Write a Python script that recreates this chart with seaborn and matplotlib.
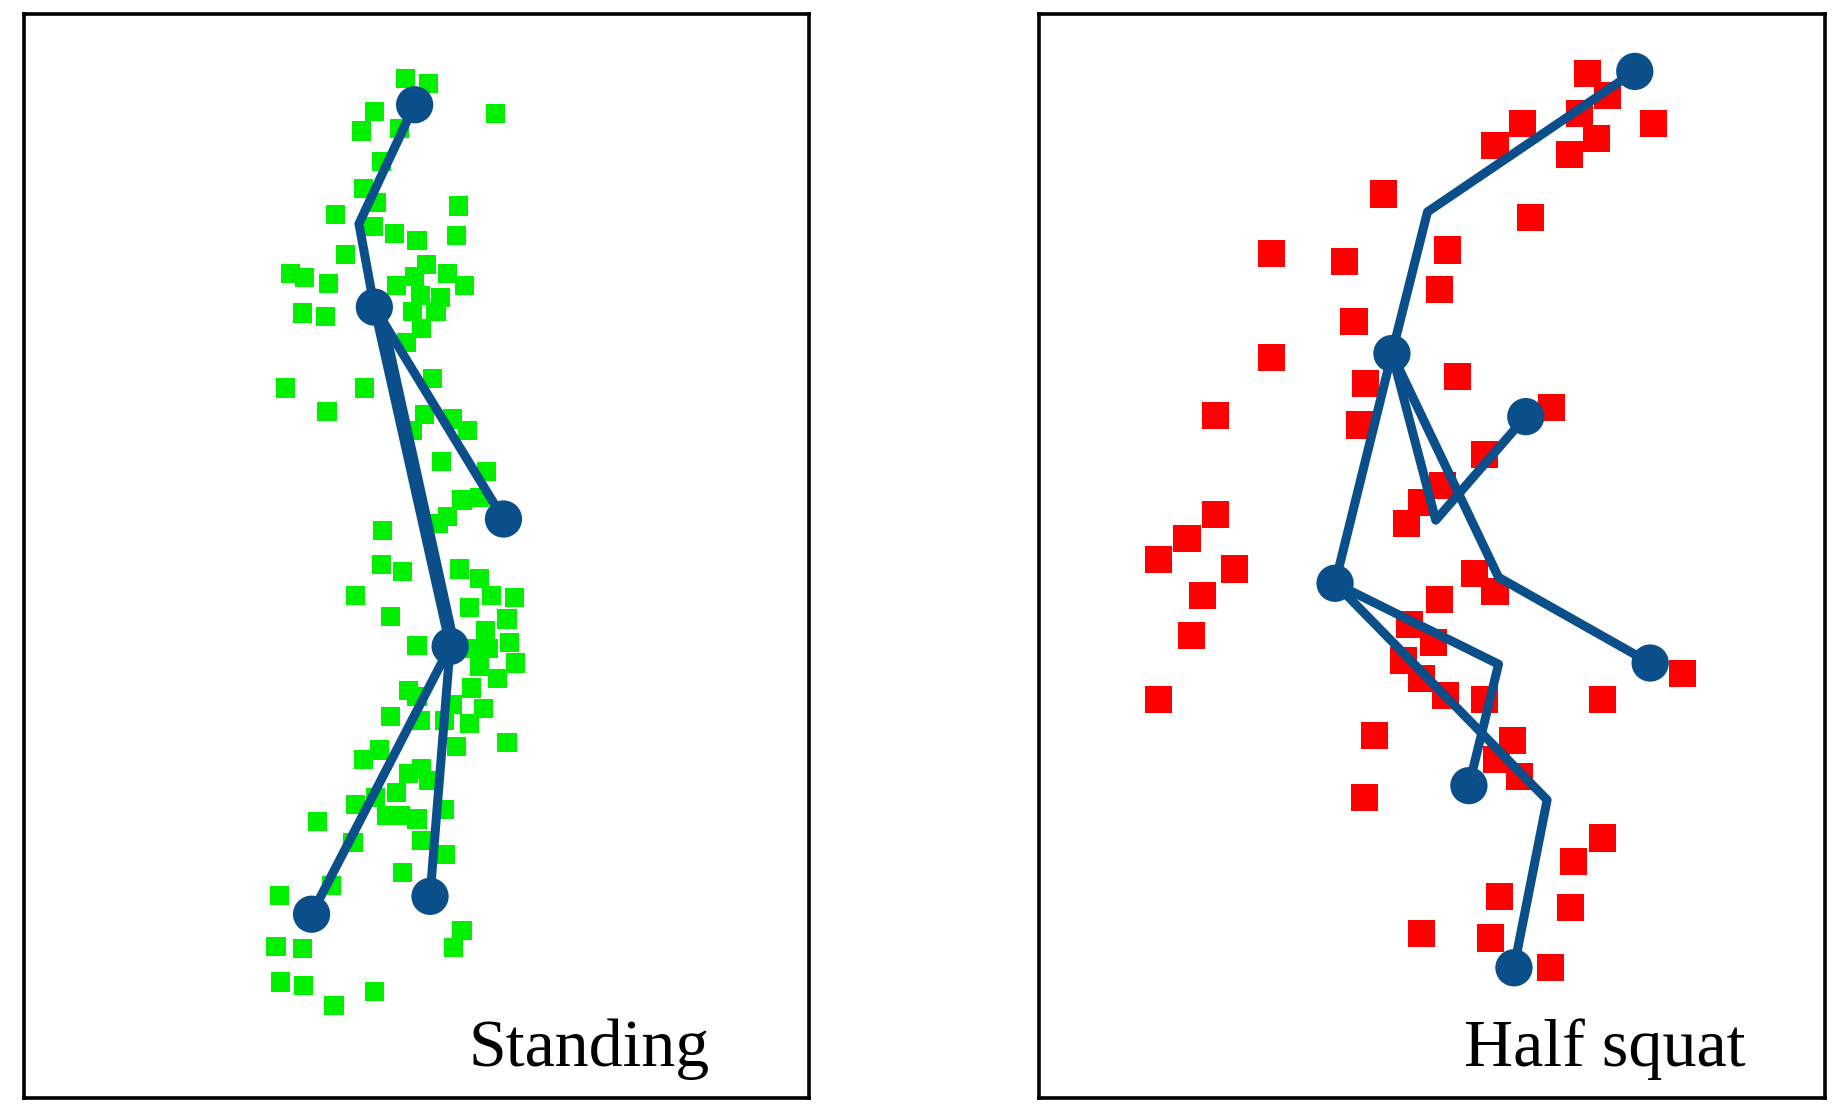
import matplotlib
matplotlib.use("Agg")
import matplotlib.pyplot as plt
import seaborn as sns
import pandas as pd

# point clouds (image-pixel units, y grows downward)
green_x = [342, 362, 316, 305, 337, 418, 322, 307, 318, 387, 283, 315, 333, 352, 385, 292, 360, 378, 350, 392,
           257, 277, 245, 355, 335, 372, 255, 275, 348, 368, 356, 343, 365, 241, 308, 276, 358, 382, 395, 348,
           373, 411, 405, 390, 378, 370, 323, 322, 340, 388, 405, 300, 330, 396, 415, 434, 428, 410, 352, 398,
           412, 430, 435, 405, 420, 345, 352, 398, 382, 408, 330, 355, 375, 396, 428, 385, 307, 320, 345, 356,
           362, 300, 317, 326, 338, 352, 375, 268, 356, 376, 340, 236, 280, 390, 383, 233, 255, 237, 256, 282,
           316, 298, 335]
green_y = [66, 70, 94, 110, 108, 95, 136, 158, 170, 173, 180, 190, 196, 202, 198, 214, 222, 230, 232, 240,
           233, 238, 230, 248, 240, 250, 263, 266, 262, 262, 276, 288, 318, 326, 326, 346, 348, 352, 362, 362,
           388, 396, 418, 420, 434, 440, 446, 474, 480, 478, 486, 500, 518, 510, 500, 502, 520, 530, 542, 545,
           545, 540, 557, 560, 570, 580, 585, 578, 592, 595, 602, 605, 605, 608, 624, 627, 638, 630, 650, 646,
           656, 676, 670, 685, 685, 688, 680, 690, 706, 718, 733, 752, 744, 782, 796, 795, 797, 825, 828, 845,
           833, 708, 666]

red_x = [1340, 1357, 1333, 1285, 1396, 1348, 1262, 1325, 1168, 1292, 1073, 1135, 1222, 1215, 1143, 1073, 1153,
         1230, 1148, 1026, 1310, 1253, 1218, 1200, 1187, 1026, 1002, 978, 1042, 1245, 1262, 1015, 1215, 1190,
         1006, 1210, 1185, 1200, 1220, 1253, 1353, 978, 1420, 1160, 1277, 1263, 1283, 1152, 1353, 1328, 1266,
         1326, 1200, 1258, 1309]
red_y = [62, 80, 95, 104, 104, 116, 122, 130, 163, 183, 213, 220, 210, 243, 270, 300, 322, 316, 357, 349, 342,
         382, 408, 422, 440, 432, 452, 470, 478, 482, 497, 500, 504, 525, 534, 540, 555, 570, 584, 588, 588, 588,
         566, 618, 622, 638, 652, 670, 704, 724, 753, 762, 784, 788, 813]

# skeleton chains: (x list, y list)
stand_chains = [
    ([350, 303, 316], [88, 188, 258]),
    ([316, 425], [258, 436]),
    ([316, 380], [258, 543]),
    ([321, 384], [258, 543]),
    ([380, 263], [543, 768]),
    ([380, 363], [543, 753]),
]
stand_joints_x = [350, 316, 425, 380, 263, 363]
stand_joints_y = [88, 258, 436, 543, 768, 753]

squat_chains = [
    ([1380, 1205, 1175], [60, 178, 297]),
    ([1175, 1212, 1288], [297, 437, 350]),
    ([1175, 1265, 1393], [297, 485, 557]),
    ([1175, 1127], [297, 490]),
    ([1127, 1265, 1240], [490, 558, 660]),
    ([1127, 1306, 1278], [490, 672, 813]),
]
squat_joints_x = [1380, 1175, 1288, 1393, 1127, 1240, 1278]
squat_joints_y = [60, 297, 350, 557, 490, 660, 813]

W, H = 1560, 935
BLUE = "#0b4f8a"


def chains_df(chains):
    rows = []
    for i, (xs, ys) in enumerate(chains):
        for k, (x, y) in enumerate(zip(xs, ys)):
            rows.append({"x": x, "y": y, "chain": i, "order": k})
    return pd.DataFrame(rows)


def draw_panel(ax, x0, x1, px, py, pcol, psize, chains, jx, jy, label):
    sns.scatterplot(x=px, y=py, ax=ax, marker="s", s=psize, color=pcol, edgecolor="none", zorder=2)
    sns.lineplot(data=chains_df(chains), x="x", y="y", units="chain", estimator=None, sort=False,
                 ax=ax, color=BLUE, linewidth=6.5, zorder=3)
    sns.scatterplot(x=jx, y=jy, ax=ax, s=720, color=BLUE, edgecolor="none", zorder=4)
    ax.set_xlim(x0, x1)
    ax.set_ylim(922, 12)
    ax.set_xticks([])
    ax.set_yticks([])
    ax.set_xlabel("")
    ax.set_ylabel("")
    for sp in ax.spines.values():
        sp.set_visible(True)
        sp.set_linewidth(2.6)
        sp.set_color("black")
    ax.text(0.72, 0.045, label, transform=ax.transAxes, ha="center", va="center",
            fontsize=49, color="black", family="Liberation Serif")


sns.set_style("white")
fig = plt.figure(figsize=(18.48, 11.13), dpi=100)
axl = fig.add_axes([20 / W, 1 - 922 / H, 663 / W, 910 / H])
axr = fig.add_axes([877 / W, 1 - 922 / H, 664 / W, 910 / H])

draw_panel(axl, 20, 683, green_x, green_y, "#00f000", 190, stand_chains,
           stand_joints_x, stand_joints_y, "Standing")
draw_panel(axr, 877, 1541, red_x, red_y, "#ff0000", 380, squat_chains,
           squat_joints_x, squat_joints_y, "Half squat")

fig.savefig("out.png", dpi=100)
